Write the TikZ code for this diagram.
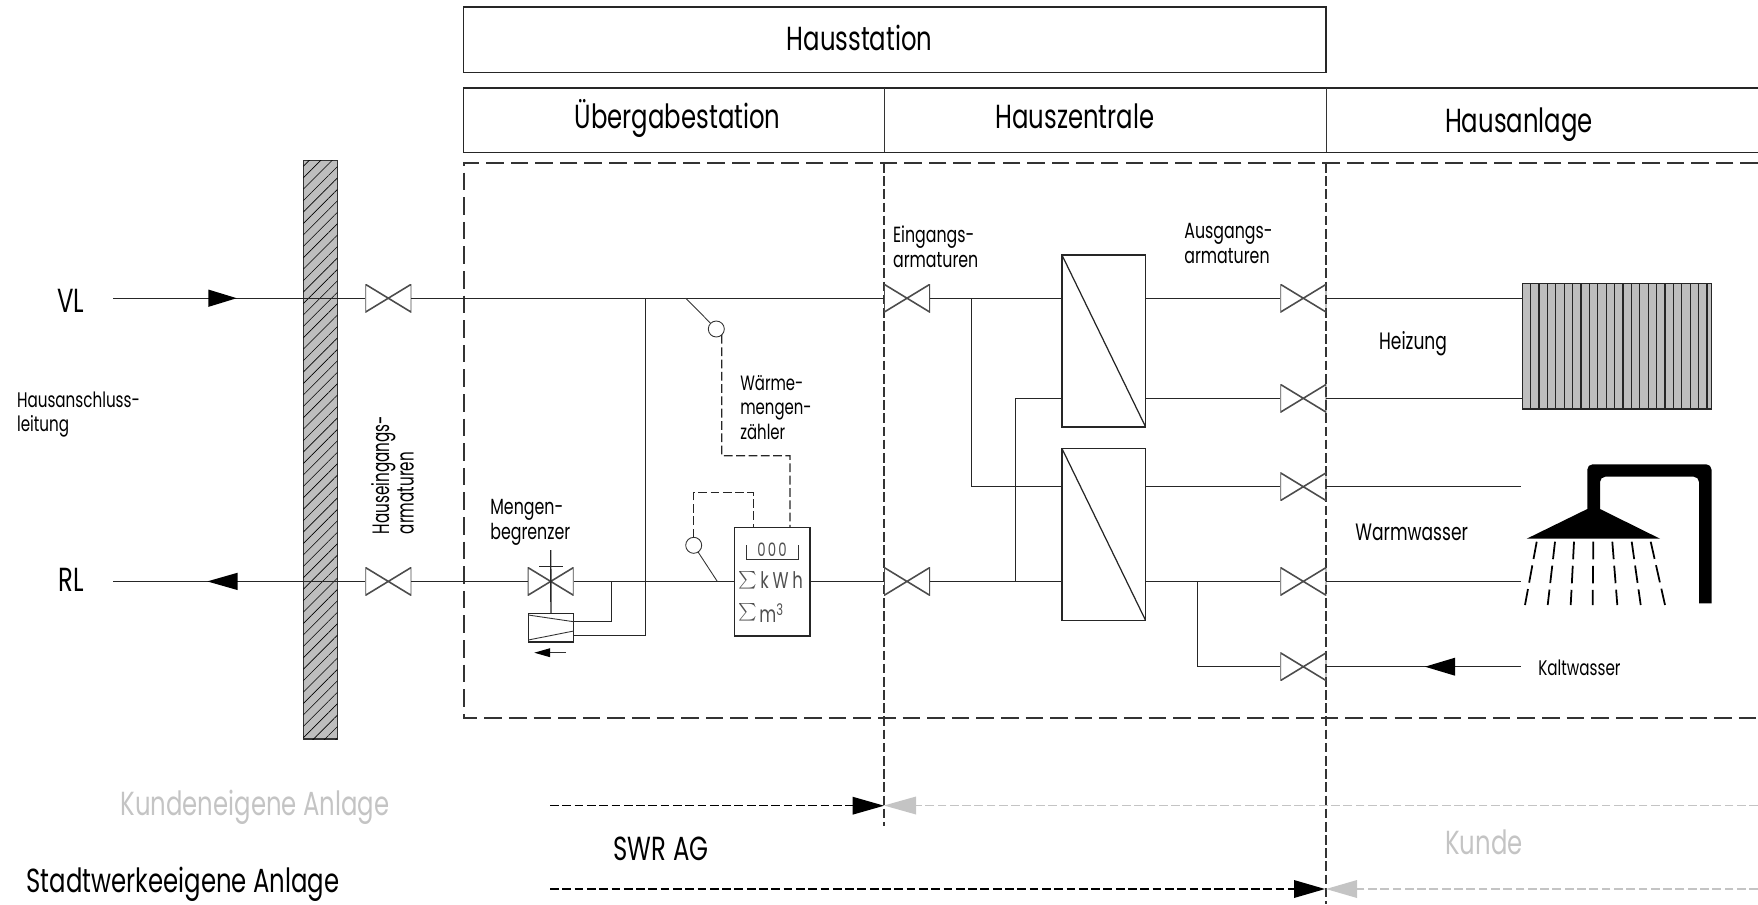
\documentclass[tikz,border=0pt]{standalone}
\usepackage{fontspec}
\setmainfont{Poppins}
\newfontfamily\headfont[FakeStretch=0.73]{Poppins}
\newfontfamily\labelfont[FakeStretch=0.72]{Poppins}
\newfontfamily\tallfont[FakeStretch=0.64]{Poppins}
\usetikzlibrary{patterns.meta}
\definecolor{kundegray}{HTML}{C4C4C4}
\definecolor{wallgray}{HTML}{BEBEBE}
\definecolor{metergray}{HTML}{505050}
\tikzset{
  pipe/.style={line width=0.8pt,draw=black!85},
  thinline/.style={line width=0.5pt,draw=black!80},
  sigline/.style={line width=0.7pt,draw=black!85,dash pattern=on 5pt off 2pt},
  borderline/.style={line width=0.7pt,draw=black!80,dash pattern=on 10pt off 4pt},
  zoneline/.style={line width=0.7pt,draw=black!80,dash pattern=on 5.5pt off 2pt},
  ownerline/.style={line width=0.7pt,dash pattern=on 5pt off 2pt},
  valve/.style={minimum width=0.92cm,minimum height=0.56cm,inner sep=0pt,outer sep=0pt,
    path picture={\draw [line width=0.9pt,black!70] (path picture bounding box.north west) -- (path picture bounding box.south east) -- (path picture bounding box.north east) -- (path picture bounding box.south west) -- cycle;}},
  exchanger/.style={draw=black!85,line width=0.8pt,minimum width=1.674cm,minimum height=3.44cm,inner sep=0pt,outer sep=0pt,
    path picture={\draw [line width=0.7pt,black!85] (path picture bounding box.north west) -- (path picture bounding box.south east);}},
  sensor/.style={circle,draw=black!80,line width=0.5pt,fill=white,minimum size=0.32cm,inner sep=0pt,outer sep=0pt},
  headtext/.style={font=\headfont\fontsize{19}{22}\selectfont,inner sep=0pt,anchor=base},
  labeltext/.style={font=\labelfont\fontsize{12.5}{14}\selectfont,inner sep=0pt,align=left},
  metertext/.style={font=\labelfont\fontsize{13}{14}\selectfont,text=metergray,inner sep=0pt},
}
\begin{document}
\begin{tikzpicture}[x=0.02cm,y=0.02cm]
\useasboundingbox (0,0) rectangle (1758,-904);
\draw [pipe] (463.5,-7) rectangle (1326,-72.3);
\node [headtext] (hausstation) at (859.6,-50) {Hausstation};
\draw [pipe] (1758,-88) -- (463.5,-88) -- (463.5,-152.3) -- (1758,-152.3);
\draw [thinline] (884,-88) -- (884,-152.3);
\draw [thinline] (1326,-88) -- (1326,-152.3);
\node [headtext] (uebergabe) at (677.7,-128) {Übergabestation};
\node [headtext] (zentrale) at (1075,-128) {Hauszentrale};
\node [headtext] (anlage) at (1519,-132) {Hausanlage};
\draw [borderline] (1758,-163) -- (464,-163) -- (464,-718) -- (1758,-718);
\draw [zoneline] (884,-163) -- (884,-826);
\draw [zoneline] (1326,-163) -- (1326,-904);
\node [draw=black!80,line width=0.7pt,fill=wallgray,minimum width=0.68cm,minimum height=11.57cm,inner sep=0pt,
  postaction={pattern={Lines[angle=45,distance=4.6pt,line width=0.35pt]},pattern color=black}] (wall) at (320.3,-449.8) {};
\coordinate (vlstart) at (113,-298.2);
\coordinate (rlstart) at (113,-581.4);
\node [headtext] (vl) at (71,-312.8) {VL};
\node [headtext] (rl) at (71,-591.5) {RL};
\node [labeltext,anchor=west,font=\labelfont\fontsize{12}{14}\selectfont] (anschluss) at (16.7,-414.5) {Hausanschluss-\\leitung};
\node [valve] (vhe) at (388.3,-298.2) {};
\node [valve] (vhr) at (388.3,-581.4) {};
\node [valve] (ve) at (907,-298.2) {};
\node [valve] (vr) at (907,-581.4) {};
\node [valve] (voa) at (1303.3,-298.2) {};
\node [valve] (vob) at (1303.3,-398.3) {};
\node [valve] (voc) at (1303.3,-486.7) {};
\node [valve] (vod) at (1303.3,-581.4) {};
\node [valve] (voe) at (1303.3,-666.7) {};
\node [valve] (vlim) at (550.7,-581.4) {};
\node [labeltext,rotate=90,font=\tallfont\fontsize{13.5}{14}\selectfont] (eingang) at (392.5,-475) {Hauseingangs-\\armaturen};
\node [labeltext,anchor=west] (begrenzer) at (490,-522.5) {Mengen-\\begrenzer};
\node [labeltext,anchor=west,font=\labelfont\fontsize{11.8}{14}\selectfont] (zaehler) at (740,-407.5) {Wärme-\\mengen-\\zähler};
\node [labeltext,anchor=west] (eingangsarm) at (892.7,-247) {Eingangs-\\armaturen};
\node [labeltext,anchor=west] (ausgangsarm) at (1184,-243.7) {Ausgangs-\\armaturen};
\node [exchanger] (hxa) at (1103.8,-341) {};
\node [exchanger] (hxb) at (1103.8,-534.5) {};
\node [draw=black!85,line width=0.7pt,fill=wallgray,minimum width=3.788cm,minimum height=2.506cm,inner sep=0pt,outer sep=0pt] (radiator) at (1617,-346.3) {};
\foreach \i in {0,...,21}
  \fill [black!85] (1529.9+8.4*\i,-283.7) rectangle (1531.1+8.4*\i,-409);
\node [draw=black!85,line width=0.8pt,minimum width=1.506cm,minimum height=2.174cm,inner sep=0pt,outer sep=0pt] (meter) at (772.3,-581.65) {};
\node [draw=black!85,line width=0.8pt,minimum width=0.908cm,minimum height=0.574cm,inner sep=0pt,outer sep=0pt] (act) at (551,-627.7) {};
\draw [thinline] (528.3,-615) -- (573.7,-621.7);
\draw [thinline] (528.3,-640) -- (573.7,-631);
\node [sensor] (sena) at (716.3,-329) {};
\node [sensor] (senb) at (693.7,-545.3) {};
\coordinate (j1) at (971.4,-298.2);
\coordinate (j2) at (1015.3,-398.3);
\coordinate (j3) at (1197.4,-581.4);
\coordinate (jl) at (611.4,-581.4);
\coordinate (jb) at (645.3,-298.2);
\coordinate (acta) at (573.7,-621.3);
\coordinate (actb) at (573.7,-635.7);
\coordinate (wwa) at (1520.7,-486.7);
\coordinate (wwb) at (1520.7,-581.4);
\coordinate (kw) at (1520.7,-666.7);
\coordinate (limtop) at (550.7,-550);
\coordinate (barl) at (539,-566.7);
\coordinate (barr) at (562.7,-566.7);
\coordinate (tapa) at (685.7,-298.2);
\coordinate (tapb) at (717.3,-581.4);
\coordinate (kna) at (721.7,-455.7);
\coordinate (mta) at (790,-527.3);
\coordinate (knb) at (694,-492.7);
\coordinate (mtb) at (753.3,-527.3);
\draw [pipe] (vlstart) -- (vhe.west);
\draw [pipe] (rlstart) -- (vhr.west);
\draw [pipe] (vhe.east) -- (ve.west);
\draw [pipe] (vhr.east) -- (vlim.west);
\draw [pipe] (vlim.east) -- (meter.west |- vlim);
\draw [pipe] (meter.east |- vr) -- (vr.west);
\draw [pipe] (ve.east) -- (hxa.west |- ve);
\draw [pipe] (hxa.east |- voa) -- (voa.west);
\draw [pipe] (voa.east) -- (radiator.west |- voa);
\draw [pipe] (hxa.east |- vob) -- (vob.west);
\draw [pipe] (vob.east) -- (radiator.west |- vob);
\draw [pipe] (j1) |- (hxb.west |- voc);
\draw [pipe] (hxa.west |- j2) -- (j2) -- (j2 |- vr);
\draw [pipe] (vr.east) -- (hxb.west |- vr);
\draw [pipe] (hxb.east |- voc) -- (voc.west);
\draw [pipe] (hxb.east |- vod) -- (vod.west);
\draw [pipe] (j3) |- (voe.west);
\draw [pipe] (voc.east) -- (wwa);
\draw [pipe] (vod.east) -- (wwb);
\draw [pipe] (voe.east) -- (kw);
\draw [pipe] (jl) |- (acta);
\draw [pipe] (jb) |- (actb);
\draw [pipe] (limtop) -- (act.north);
\draw [pipe] (barl) -- (barr);
\draw [thinline] (tapa) -- (sena);
\draw [thinline] (tapb) -- (senb);
\draw [sigline] (sena.-48) -- (kna) -| (mta);
\draw [sigline] (senb.north) |- (mtb |- knb) -- (mtb);
\fill [black] (236.7,-298.2) -- (208.3,-289.5) -- (208.3,-306.9);
\fill [black] (207.3,-581.4) -- (237.7,-572.7) -- (237.7,-590.1);
\fill [black] (1425,-666.7) -- (1455,-657.7) -- (1455,-675.7);
\draw [thinline] (566,-652.7) -- (550,-652.7);
\fill [black] (534.3,-652.7) -- (550,-648.2) -- (550,-657.2);
\draw [thinline] (746.7,-545) -- (746.7,-559.3) -- (798.3,-559.3) -- (798.3,-545);
\node [metertext,font=\labelfont\fontsize{10.5}{12}\selectfont] (count) at (772,-550) {\addfontfeature{LetterSpace=12}000};
\node [inner sep=0pt,text=metergray] (sumkwh) at (748,-580) {$\sum$};
\node [metertext,anchor=west] (kwh) at (760,-580) {k\,W\,h};
\node [inner sep=0pt,text=metergray] (summ) at (748,-612.5) {$\sum$};
\node [metertext,anchor=west] (mcube) at (759,-613) {m\textsuperscript{3}};
\node [labeltext,font=\labelfont\fontsize{13.5}{14}\selectfont] (heizung) at (1413,-344) {Heizung};
\node [labeltext,font=\labelfont\fontsize{13.5}{14}\selectfont] (warmwasser) at (1411.7,-532.7) {Warmwasser};
\node [labeltext,anchor=west,font=\labelfont\fontsize{12}{14}\selectfont] (kaltwasser) at (1538,-668) {Kaltwasser};
\fill [black] (1699,-603.3) -- (1711.5,-603.3) [rounded corners=3pt] -- (1711.5,-464.3) -- (1587.3,-464.3) [sharp corners] -- (1587.3,-509) -- (1526.7,-538.7) -- (1660,-538.7) -- (1600,-509) [rounded corners=3pt] -- (1600,-476.7) -- (1699,-476.7) [sharp corners] -- cycle;
\foreach \a/\b in {1536.7/1525,1555/1547.7,1574/1570.7,1593.3/1592.7,1612.3/1617.3,1631.7/1640.7,1650.7/1665}
  \draw [line width=1pt,black,dash pattern=on 10pt off 3.7pt] (\a,-541.7) -- (\b,-605);
\coordinate (owna) at (550,-805.7);
\coordinate (ownb) at (550,-889);
\coordinate (cusa) at (1758,-805.5);
\coordinate (cusb) at (1758,-889);
\coordinate (tipa) at (852.5,-805.7);
\coordinate (tipb) at (1294,-889);
\coordinate (tipc) at (916,-805.5);
\coordinate (tipd) at (1357,-889);
\draw [ownerline,black] (owna) -- (tipa);
\draw [ownerline,black] (ownb) -- (tipb);
\draw [ownerline,kundegray] (cusa) -- (tipc);
\draw [ownerline,kundegray] (cusb) -- (tipd);
\fill [black] (884,-805.7) -- (852.5,-796.7) -- (852.5,-814.7);
\fill [black] (1325,-889) -- (1294,-880) -- (1294,-898);
\fill [kundegray] (884,-805.5) -- (916,-796.5) -- (916,-814.5);
\fill [kundegray] (1326,-889) -- (1357,-880) -- (1357,-898);
\node [headtext,text=kundegray] (kundenanlage) at (255,-815) {Kundeneigene Anlage};
\node [headtext] (swrag) at (661,-860) {SWR AG};
\node [headtext] (stadtwerk) at (183,-892) {Stadtwerkeeigene Anlage};
\node [headtext,text=kundegray] (kunde) at (1484,-854) {Kunde};
\end{tikzpicture}
\end{document}
